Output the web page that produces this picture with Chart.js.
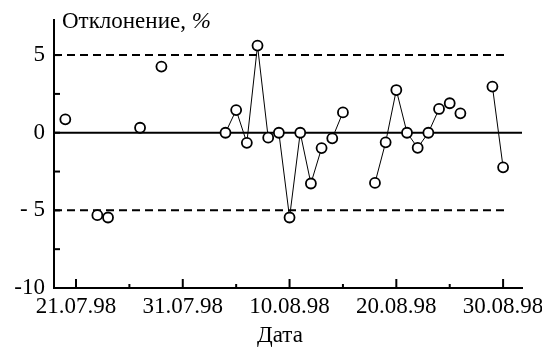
<!DOCTYPE html>
<html>
<head>
<meta charset="utf-8">
<script src="https://cdn.jsdelivr.net/npm/chart.js@4"></script>
<style>
  html, body { margin: 0; padding: 0; background: #fff; }
  #wrap { width: 542px; height: 349px; }
</style>
</head>
<body>
<div id="wrap"><canvas id="myChart" width="542" height="349"></canvas></div>
<script>
"use strict";
// measurement dates and deviation, %
var dates = [
  "20.07.98", "23.07.98", "24.07.98", "27.07.98", "29.07.98",
  "04.08.98", "05.08.98", "06.08.98", "07.08.98", "08.08.98",
  "09.08.98", "10.08.98", "11.08.98", "12.08.98", "13.08.98",
  "14.08.98", "15.08.98", "18.08.98", "19.08.98", "20.08.98",
  "21.08.98", "22.08.98", "23.08.98", "24.08.98", "25.08.98",
  "26.08.98", "29.08.98", "30.08.98",
];
var deviation = [
  0.86, -5.31, -5.46, 0.32, 4.26,
  0.0, 1.46, -0.65, 5.61, -0.32,
  0.0, -5.46, 0.0, -3.27, -0.99,
  -0.36, 1.31, -3.23, -0.62, 2.75,
  0.0, -0.97, 0.0, 1.53, 1.9,
  1.25, 2.97, -2.23,
];
// 1 = point is joined to the next one by a line
var linked = [
  0, 0, 0, 0, 0,
  1, 1, 1, 1, 0,
  1, 1, 1, 1, 0,
  1, 0, 1, 1, 1,
  1, 1, 1, 0, 0,
  0, 1,
];
var xTickDates = ["21.07.98", "31.07.98", "10.08.98", "20.08.98", "30.08.98"];
var yTicks = [-10, -5, 0, 5];
var limits = [-5, 5];

var origin = Date.UTC(1998, 6, 21);
function dayOf(s) {
  var p = s.split(".");
  return (Date.UTC(1900 + Number(p[2]), Number(p[1]) - 1, Number(p[0])) - origin) / 86400000;
}
var points = dates.map(function (d, i) {
  return { x: dayOf(d), y: deviation[i] };
});
var xTickDays = xTickDates.map(dayOf);

var FONT = '"Liberation Serif", "Times New Roman", serif';
var FS = 23;

var extras = {
  id: "extras",
  beforeDatasetsDraw: function (chart) {
    var c = chart.ctx, a = chart.chartArea;
    var xs = chart.scales.x, ys = chart.scales.y;
    c.save();
    c.strokeStyle = "#000";
    // zero line
    c.lineWidth = 2;
    c.beginPath();
    c.moveTo(a.left, ys.getPixelForValue(0));
    c.lineTo(a.right, ys.getPixelForValue(0));
    c.stroke();
    // +-5 % limits
    c.setLineDash([8, 5]);
    limits.forEach(function (v) {
      var y = ys.getPixelForValue(v);
      c.beginPath();
      c.moveTo(a.left, y);
      c.lineTo(xs.getPixelForValue(40.2), y);
      c.stroke();
    });
    c.setLineDash([]);
    // inward ticks on x
    for (var d = 0; d <= 40; d += 5) {
      var px = xs.getPixelForValue(d);
      var len = d % 10 === 0 ? 9 : 4;
      c.beginPath();
      c.moveTo(px, a.bottom);
      c.lineTo(px, a.bottom - len);
      c.stroke();
    }
    // inward ticks on y
    for (var v = -7.5; v <= 5; v += 2.5) {
      var py = ys.getPixelForValue(v);
      c.beginPath();
      c.moveTo(a.left, py);
      c.lineTo(a.left + 6, py);
      c.stroke();
    }
    c.restore();
  },
  afterDraw: function (chart) {
    var c = chart.ctx;
    c.save();
    c.fillStyle = "#000";
    c.textBaseline = "alphabetic";
    c.textAlign = "left";
    c.font = FS + "px " + FONT;
    var t = "Отклонение, ";
    c.fillText(t, 62, 28);
    var w = c.measureText(t).width;
    c.font = "italic " + FS + "px " + FONT;
    c.fillText("%", 62 + w, 28);
    c.font = FS + "px " + FONT;
    c.fillText("Дата", 257, 342);
    c.restore();
  },
};

var ctx = document.getElementById("myChart");
var myChart = new Chart(ctx, {
  type: "line",
  data: {
    datasets: [
      {
        data: points,
        borderColor: "#000",
        borderWidth: 1,
        pointRadius: 5,
        pointBorderWidth: 1.8,
        pointBackgroundColor: "#fff",
        pointBorderColor: "#000",
        tension: 0,
        segment: {
          borderColor: function (s) {
            return linked[s.p0DataIndex] ? "#000" : "rgba(0,0,0,0)";
          },
        },
      },
    ],
  },
  options: {
    responsive: false,
    animation: false,
    events: [],
    layout: { padding: { left: 0, top: 20, right: 20, bottom: 0 } },
    plugins: { legend: { display: false }, tooltip: { enabled: false } },
    scales: {
      x: {
        type: "linear",
        min: -2.06,
        max: 41.77,
        grid: { display: false, drawTicks: false },
        border: { display: true, color: "#000", width: 2 },
        afterBuildTicks: function (s) {
          s.ticks = xTickDays.map(function (v) { return { value: v }; });
        },
        afterFit: function (s) {
          s.height = 61;
          s.paddingLeft = 0;
          s.paddingRight = 0;
        },
        ticks: {
          color: "#000",
          padding: 5,
          maxRotation: 0,
          autoSkip: false,
          font: { family: FONT, size: FS },
          callback: function (v) {
            return xTickDates[xTickDays.indexOf(v)];
          },
        },
      },
      y: {
        min: -10,
        max: 7.26,
        grid: { display: false, drawTicks: false },
        border: { display: true, color: "#000", width: 2 },
        afterBuildTicks: function (s) {
          s.ticks = yTicks.map(function (v) { return { value: v }; });
        },
        afterFit: function (s) {
          s.width = 54;
          s.paddingTop = 0;
          s.paddingBottom = 0;
        },
        ticks: {
          color: "#000",
          padding: 9,
          font: { family: FONT, size: FS },
          callback: function (v) {
            return v === -5 ? "- 5" : String(v);
          },
        },
      },
    },
  },
  plugins: [extras],
});
</script>
</body>
</html>
